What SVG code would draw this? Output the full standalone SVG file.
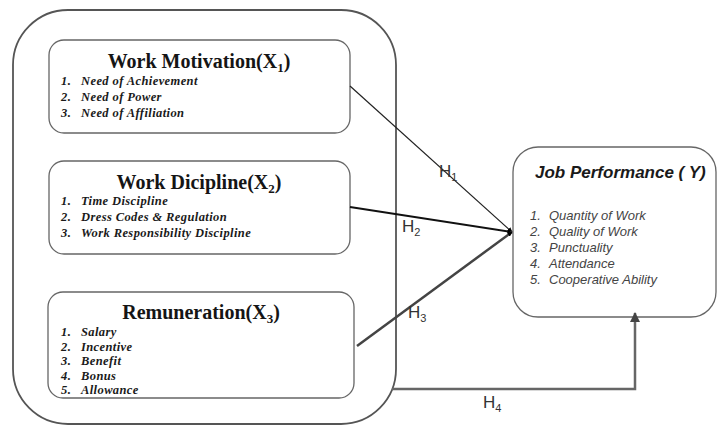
<svg xmlns="http://www.w3.org/2000/svg" width="717" height="426" viewBox="0 0 717 426">
<style>
.box{fill:#fff;stroke:#666;stroke-width:1.3}
.outer{fill:none;stroke:#555;stroke-width:1.8}
.ttl{font-family:"Liberation Serif",serif;font-weight:bold;font-size:20px;fill:#151515;text-anchor:middle}
.sub{font-size:13px}
.it{font-family:"Liberation Serif",serif;font-weight:bold;font-style:italic;font-size:12.5px;letter-spacing:0.4px;fill:#1a1a1a}
.jt{font-family:"Liberation Sans",sans-serif;font-weight:bold;font-style:italic;font-size:17px;fill:#1a1a1a}
.ji{font-family:"Liberation Sans",sans-serif;font-style:italic;font-size:13px;fill:#444}
.h{font-family:"Liberation Sans",sans-serif;font-size:17px;fill:#333}
.hs{font-size:11px}
.c{fill:none;stroke-linecap:butt}
</style>
<defs>
<marker id="ah" viewBox="0 0 10 10" refX="9" refY="5" markerWidth="5" markerHeight="5" orient="auto" markerUnits="userSpaceOnUse">
<path d="M0,0 L10,5 L0,10 z" fill="#000"/>
</marker>
<marker id="ah2" viewBox="0 0 10 10" refX="9" refY="5" markerWidth="4" markerHeight="4" orient="auto">
<path d="M0,0 L10,5 L0,10 z" fill="#444"/>
</marker>
</defs>
<rect width="717" height="426" fill="#fff"/>

<g id="independent-group">
<rect class="outer" x="13" y="10" width="383" height="414" rx="55" ry="55"/>
</g>

<g id="work-motivation">
<rect class="box" x="49" y="40" width="301" height="93" rx="15" ry="15"/>
<text class="ttl" x="199" y="68">Work Motivation(X<tspan class="sub" dy="4">1</tspan><tspan dy="-4">)</tspan></text>
<text class="it" x="61" y="85">1.</text><text class="it" x="81" y="85">Need of Achievement</text>
<text class="it" x="61" y="101">2.</text><text class="it" x="81" y="101">Need of Power</text>
<text class="it" x="61" y="117">3.</text><text class="it" x="81" y="117">Need of Affiliation</text>
</g>

<g id="work-discipline">
<rect class="box" x="49" y="161" width="301" height="93" rx="15" ry="15"/>
<text class="ttl" x="199" y="189">Work Dicipline(X<tspan class="sub" dy="4">2</tspan><tspan dy="-4">)</tspan></text>
<text class="it" x="61" y="205">1.</text><text class="it" x="81" y="205">Time Discipline</text>
<text class="it" x="61" y="221">2.</text><text class="it" x="81" y="221">Dress Codes &amp; Regulation</text>
<text class="it" x="61" y="237">3.</text><text class="it" x="81" y="237">Work Responsibility Discipline</text>
</g>

<g id="remuneration">
<rect class="box" x="48" y="292" width="306" height="106" rx="15" ry="15"/>
<text class="ttl" x="201" y="319">Remuneration(X<tspan class="sub" dy="4">3</tspan><tspan dy="-4">)</tspan></text>
<text class="it" x="61" y="336">1.</text><text class="it" x="81" y="336">Salary</text>
<text class="it" x="61" y="350.5">2.</text><text class="it" x="81" y="350.5">Incentive</text>
<text class="it" x="61" y="365">3.</text><text class="it" x="81" y="365">Benefit</text>
<text class="it" x="61" y="379.5">4.</text><text class="it" x="81" y="379.5">Bonus</text>
<text class="it" x="61" y="394">5.</text><text class="it" x="81" y="394">Allowance</text>
</g>

<g id="job-performance">
<rect class="box" x="513" y="147" width="203" height="170" rx="25" ry="25"/>
<text class="jt" x="535" y="178">Job Performance ( Y)</text>
<text class="ji" x="530" y="220">1.</text><text class="ji" x="549" y="220">Quantity of Work</text>
<text class="ji" x="530" y="236">2.</text><text class="ji" x="549" y="236">Quality of Work</text>
<text class="ji" x="530" y="252">3.</text><text class="ji" x="549" y="252">Punctuality</text>
<text class="ji" x="530" y="268">4.</text><text class="ji" x="549" y="268">Attendance</text>
<text class="ji" x="530" y="284">5.</text><text class="ji" x="549" y="284">Cooperative Ability</text>
</g>

<g id="connectors">
<line class="c" x1="350" y1="86" x2="512" y2="232" stroke="#222" stroke-width="1.2" marker-end="url(#ah)"/>
<line class="c" x1="350" y1="207" x2="512" y2="232" stroke="#111" stroke-width="2" marker-end="url(#ah)"/>
<line class="c" x1="357" y1="346" x2="512" y2="232" stroke="#444" stroke-width="2.5" marker-end="url(#ah)"/>
<polyline class="c" points="392,389 635,389 635,313" stroke="#666" stroke-width="2.5" marker-end="url(#ah2)"/>
<text class="h" x="439" y="177">H<tspan class="hs" dy="4">1</tspan></text>
<text class="h" x="402" y="232">H<tspan class="hs" dy="4">2</tspan></text>
<text class="h" x="408" y="318">H<tspan class="hs" dy="4">3</tspan></text>
<text class="h" x="483" y="408">H<tspan class="hs" dy="4">4</tspan></text>
</g>
</svg>
